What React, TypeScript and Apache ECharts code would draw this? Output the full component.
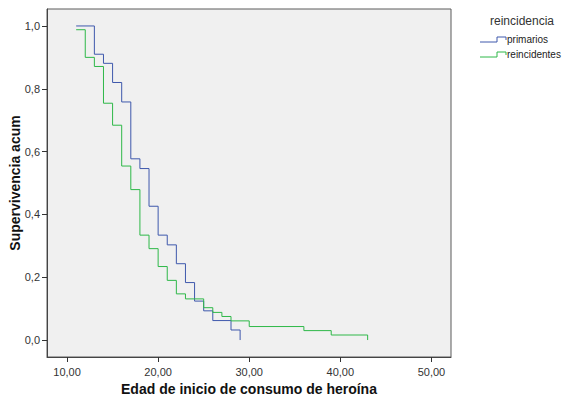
import React, { useEffect, useRef } from "react";
import * as echarts from "echarts";

const primariosX = [11, 13, 14, 15, 16, 17, 18, 19, 20, 21, 22, 23, 24, 25, 26, 28, 29];
const primariosY = [1.0, 0.91, 0.881, 0.82, 0.758, 0.577, 0.546, 0.426, 0.334, 0.303, 0.243, 0.183, 0.124, 0.093, 0.062, 0.032, 0.0];

const reincX = [11, 12, 13, 14, 15, 16, 17, 18, 19, 20, 21, 22, 23, 25, 26, 27, 28, 30, 36, 39, 43];
const reincY = [0.988, 0.9, 0.871, 0.754, 0.684, 0.554, 0.479, 0.334, 0.291, 0.234, 0.19, 0.147, 0.131, 0.103, 0.088, 0.075, 0.061, 0.043, 0.03, 0.016, 0.0];

const xTicks = [10, 20, 30, 40, 50];
const yTicks = [0, 0.2, 0.4, 0.6, 0.8, 1.0];

const legendTitle = "reincidencia";
const seriesNames = ["primarios", "reincidentes"];
const seriesColors = ["#3E58AC", "#2EB848"];

const FONT = "'Liberation Sans', Arial, sans-serif";

export default function App() {
  const ref = useRef<HTMLDivElement>(null);
  useEffect(() => {
    if (!ref.current) return;
    const chart = echarts.init(ref.current, undefined, { renderer: "svg" });
    const mk = (xs: number[], ys: number[]) => xs.map((x, i) => [x, ys[i]]);
    const legendGraphics: any[] = [
      {
        type: "text",
        left: 490,
        top: 15,
        style: { text: legendTitle, fill: "#333", font: `12px ${FONT}` },
      },
    ];
    seriesNames.forEach((n, i) => {
      const yb = 42 + i * 15;
      legendGraphics.push({
        type: "polyline",
        shape: {
          points: [
            [480, yb],
            [497, yb],
            [497, yb - 5],
            [506, yb - 5],
            [506, yb - 2],
          ],
        },
        style: { stroke: seriesColors[i], lineWidth: 1, fill: "none" },
      });
      legendGraphics.push({
        type: "text",
        left: 507,
        top: yb - 8,
        style: { text: n, fill: "#222", font: `10px ${FONT}` },
      });
    });

    chart.setOption({
      animation: false,
      backgroundColor: "#ffffff",
      textStyle: { fontFamily: FONT },
      grid: {
        left: 47,
        right: 114,
        top: 9,
        bottom: 42,
        containLabel: false,
        outerBoundsMode: "none",
        show: true,
        backgroundColor: "#f0f0f0",
        borderColor: "#5a5a5a",
        borderWidth: 1,
      },
      xAxis: {
        type: "value",
        min: 7.8,
        max: 52.15,
        name: "Edad de inicio de consumo de heroína",
        nameLocation: "middle",
        nameGap: 25,
        nameMoveOverlap: false,
        nameTextStyle: { fontSize: 14, fontWeight: "bold", color: "#111", fontFamily: FONT },
        axisLine: { show: true, onZero: false, lineStyle: { color: "#444" } },
        axisTick: { show: true, length: 5, customValues: xTicks, lineStyle: { color: "#333" } },
        axisLabel: {
          customValues: xTicks,
          margin: 9,
          fontSize: 11,
          color: "#333",
          formatter: (v: number) => v.toFixed(2).replace(".", ","),
        },
        splitLine: { show: false },
      },
      yAxis: {
        type: "value",
        min: -0.054,
        max: 1.054,
        name: "Supervivencia acum",
        nameLocation: "middle",
        nameGap: 25,
        nameMoveOverlap: false,
        nameRotate: 90,
        nameTextStyle: { fontSize: 14, fontWeight: "bold", color: "#111", fontFamily: FONT },
        axisLine: { show: true, onZero: false, lineStyle: { color: "#444" } },
        axisTick: { show: true, length: 5, customValues: yTicks, lineStyle: { color: "#333" } },
        axisLabel: {
          customValues: yTicks,
          margin: 7,
          fontSize: 11,
          color: "#333",
          formatter: (v: number) => v.toFixed(1).replace(".", ","),
        },
        splitLine: { show: false },
      },
      series: [
        {
          name: seriesNames[0],
          type: "line",
          step: "end",
          showSymbol: false,
          data: mk(primariosX, primariosY),
          lineStyle: { color: seriesColors[0], width: 1 },
          itemStyle: { color: seriesColors[0] },
        },
        {
          name: seriesNames[1],
          type: "line",
          step: "end",
          showSymbol: false,
          data: mk(reincX, reincY),
          lineStyle: { color: seriesColors[1], width: 1 },
          itemStyle: { color: seriesColors[1] },
        },
      ],
      graphic: legendGraphics,
    });
    return () => chart.dispose();
  }, []);
  return (
    <div
      ref={ref}
      style={{ position: "fixed", left: 0, top: 0, width: 565, height: 399 }}
    />
  );
}
